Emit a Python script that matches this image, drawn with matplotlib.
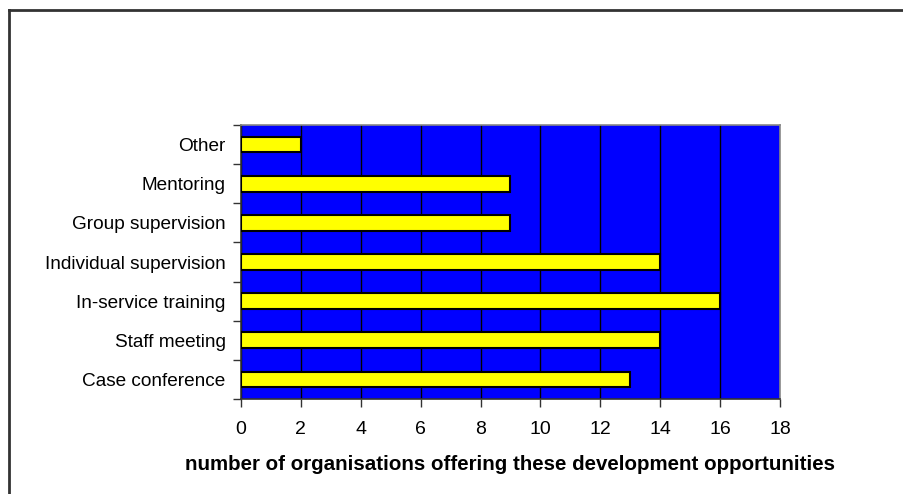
import matplotlib
matplotlib.use("Agg")
import matplotlib.pyplot as plt
from matplotlib.lines import Line2D
import numpy as np

categories = ["Case conference", "Staff meeting", "In-service training",
              "Individual supervision", "Group supervision", "Mentoring", "Other"]
counts = [13, 14, 16, 14, 9, 9, 2]
xticks = [0, 2, 4, 6, 8, 10, 12, 14, 16, 18]
xlabel = "number of organisations offering these development opportunities"

plt.rcParams["font.family"] = ["Liberation Sans", "DejaVu Sans"]

fig = plt.figure(figsize=(9.04, 4.94), dpi=100)
ax = fig.add_axes([241/904, 1-399/494, (780-241)/904, (399-125)/494])

ypos = np.arange(len(categories))
ax.barh(ypos, counts, height=0.4, color="#FFFF00", edgecolor="black",
        linewidth=1.5, zorder=3)
ax.set_facecolor("#0000FF")
ax.set_xlim(0, 18)
ax.set_ylim(-0.5, len(categories) - 0.5)
ax.set_xticks(xticks)
ax.set_xticklabels([str(t) for t in xticks], fontsize=14)
ax.set_yticks(ypos)
ax.set_yticklabels(categories, fontsize=13.7)
ax.tick_params(axis="y", which="major", length=0, pad=11)
ax.set_yticks(np.arange(-0.5, len(categories), 1), minor=True)
ax.tick_params(axis="y", which="minor", length=6, width=1, color="#333333")
ax.tick_params(axis="x", length=6, width=1, color="#333333", pad=10)
ax.xaxis.grid(True, color="black", linewidth=1, zorder=1)
ax.set_axisbelow(True)
for s in ["left", "bottom"]:
    ax.spines[s].set_color("#333333")
    ax.spines[s].set_linewidth(1.2)
for s in ["top", "right"]:
    ax.spines[s].set_color("#888888")
    ax.spines[s].set_linewidth(1.2)
ax.set_xlabel(xlabel, fontsize=14.8, fontweight="bold", labelpad=12)

# outer frame (top and left visible)
fig.add_artist(Line2D([8.5/904, 8.5/904], [0, 1-10.5/494], color="#333333",
                      linewidth=2, transform=fig.transFigure))
fig.add_artist(Line2D([8.5/904, 1], [1-10.5/494, 1-10.5/494], color="#333333",
                      linewidth=2, transform=fig.transFigure))

fig.savefig("out.png", dpi=100, facecolor="white")
